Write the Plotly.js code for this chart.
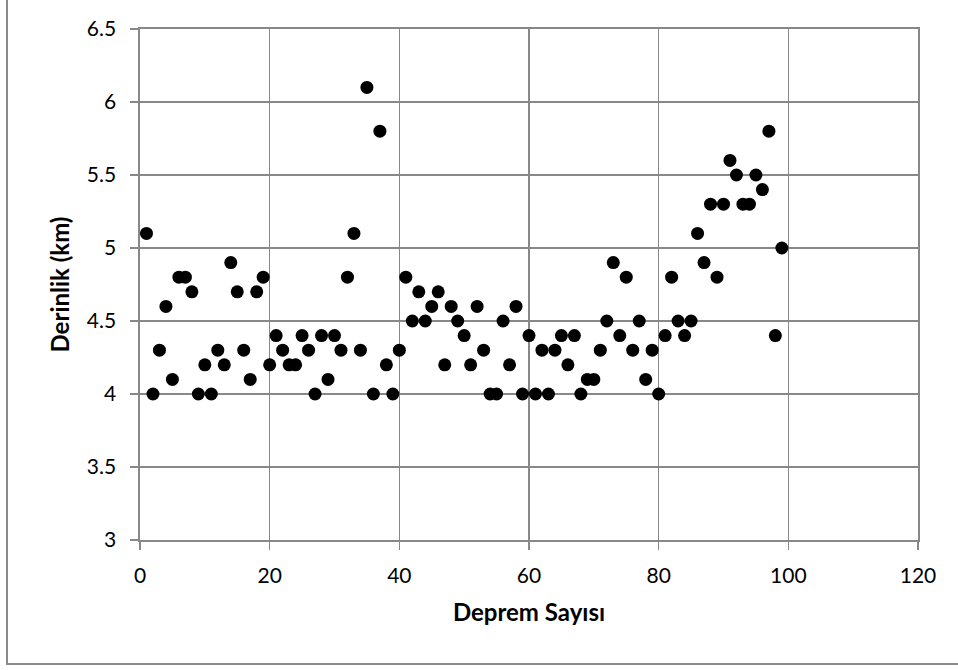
<!DOCTYPE html>
<html>
<head>
<meta charset="utf-8">
<script src="https://cdn.plot.ly/plotly-3.0.1.min.js"></script>
<style>
  html, body { margin: 0; padding: 0; background: #ffffff; }
  #wrap { position: relative; width: 958px; height: 670px; overflow: hidden; }
  #chart { position: absolute; left: 0; top: 0; width: 958px; height: 670px; }
  #frame { position: absolute; left: 6px; top: -10px; width: 1000px; height: 673px;
           border-left: 2px solid #8a8a8a; border-bottom: 2px solid #8a8a8a; pointer-events: none; }
</style>
</head>
<body>
<div id="wrap">
  <div id="chart"></div>
  <div id="frame"></div>
</div>
<script>
const depremSayisi = [
  1,2,3,4,5,6,7,8,9,10,
  11,12,13,14,15,16,17,18,19,20,
  21,22,23,24,25,26,27,28,29,30,
  31,32,33,34,35,36,37,38,39,40,
  41,42,43,44,45,46,47,48,49,50,
  51,52,53,54,55,56,57,58,59,60,
  61,62,63,64,65,66,67,68,69,70,
  71,72,73,74,75,76,77,78,79,80,
  81,82,83,84,85,86,87,88,89,90,
  91,92,93,94,95,96,97,98,99
];
const derinlik = [
  5.1,4.0,4.3,4.6,4.1,4.8,4.8,4.7,4.0,4.2,
  4.0,4.3,4.2,4.9,4.7,4.3,4.1,4.7,4.8,4.2,
  4.4,4.3,4.2,4.2,4.4,4.3,4.0,4.4,4.1,4.4,
  4.3,4.8,5.1,4.3,6.1,4.0,5.8,4.2,4.0,4.3,
  4.8,4.5,4.7,4.5,4.6,4.7,4.2,4.6,4.5,4.4,
  4.2,4.6,4.3,4.0,4.0,4.5,4.2,4.6,4.0,4.4,
  4.0,4.3,4.0,4.3,4.4,4.2,4.4,4.0,4.1,4.1,
  4.3,4.5,4.9,4.4,4.8,4.3,4.5,4.1,4.3,4.0,
  4.4,4.8,4.5,4.4,4.5,5.1,4.9,5.3,4.8,5.3,
  5.6,5.5,5.3,5.3,5.5,5.4,5.8,4.4,5.0
];
const xTitle = "Deprem Sayısı";
const yTitle = "Derinlik (km)";

const gridColor = "#888888";
const fontFam = "Lato, 'Open Sans', sans-serif";

Plotly.newPlot("chart", [{
  type: "scatter",
  mode: "markers",
  x: depremSayisi,
  y: derinlik,
  marker: { color: "#000000", size: 13, line: { width: 0 } },
  hoverinfo: "x+y"
}], {
  width: 958,
  height: 670,
  margin: { l: 140, r: 40, t: 29, b: 130 },
  paper_bgcolor: "#ffffff",
  plot_bgcolor: "#ffffff",
  showlegend: false,
  font: { family: fontFam, color: "#000000", size: 21 },
  xaxis: {
    range: [0, 120],
    dtick: 20,
    tick0: 0,
    showgrid: true,
    gridcolor: gridColor,
    gridwidth: 1.4,
    zeroline: false,
    showline: true,
    linecolor: gridColor,
    linewidth: 1.6,
    mirror: true,
    ticks: "outside",
    ticklen: 8,
    tickcolor: gridColor,
    tickwidth: 1.4,
    ticklabelstandoff: 8,
    tickfont: { family: fontFam, size: 21, color: "#000000" },
    title: { text: xTitle, font: { family: fontFam, size: 24, color: "#000000", weight: "bold" }, standoff: 18 }
  },
  yaxis: {
    range: [3, 6.5],
    dtick: 0.5,
    tick0: 3,
    showgrid: true,
    gridcolor: gridColor,
    gridwidth: 1.4,
    zeroline: false,
    showline: true,
    linecolor: gridColor,
    linewidth: 1.6,
    mirror: true,
    ticks: "outside",
    ticklen: 8,
    tickcolor: gridColor,
    tickwidth: 1.4,
    ticklabelstandoff: 10,
    tickfont: { family: fontFam, size: 21, color: "#000000" },
    title: { text: yTitle, font: { family: fontFam, size: 24, color: "#000000", weight: "bold" }, standoff: 10 }
  }
}, { displayModeBar: false, staticPlot: true });
</script>
</body>
</html>
